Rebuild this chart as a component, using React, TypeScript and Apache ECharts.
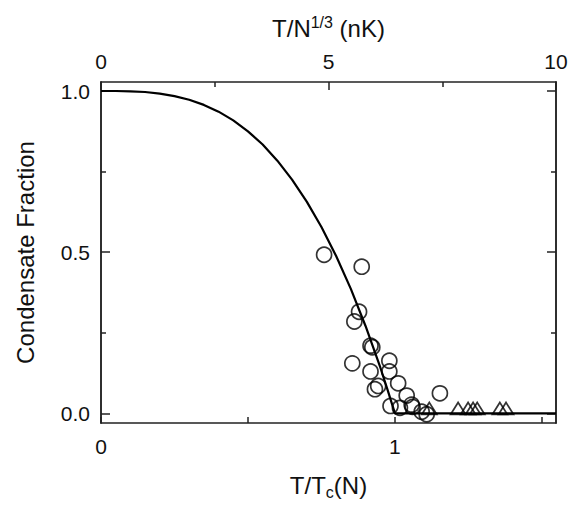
import React, { useEffect, useRef } from "react";
import * as echarts from "echarts";

const curveT = [0, 0.05, 0.1, 0.15, 0.2, 0.25, 0.3, 0.35, 0.4, 0.45, 0.5, 0.55, 0.6, 0.65, 0.7, 0.75, 0.8, 0.85, 0.9, 0.95, 0.975, 1.0, 1.548];
const curveF = [1, 1.0, 0.999, 0.997, 0.992, 0.984, 0.973, 0.957, 0.936, 0.909, 0.875, 0.834, 0.784, 0.725, 0.657, 0.578, 0.488, 0.386, 0.271, 0.143, 0.073, 0, 0];

const circleT = [0.759, 0.887, 0.878, 0.862, 0.917, 0.923, 0.855, 0.981, 0.917, 0.981, 1.011, 0.932, 0.943, 1.04, 0.985, 1.017, 1.057, 1.06, 1.091, 1.108, 1.153];
const circleF = [0.492, 0.455, 0.315, 0.285, 0.21, 0.205, 0.155, 0.163, 0.13, 0.13, 0.093, 0.075, 0.085, 0.055, 0.023, 0.017, 0.027, 0.02, 0.005, -0.003, 0.062];

const triT = [1.117, 1.215, 1.249, 1.266, 1.28, 1.357, 1.378];
const triF = [0.015, 0.015, 0.015, 0.015, 0.015, 0.015, 0.015];

const yMajor = [0, 0.5, 1];
const yMinor = [0.25, 0.75];
const bottomLabels = [0, 1];

const FONT = "Liberation Sans, Arial, Helvetica, sans-serif";
const AX = "#222";

export default function App() {
  const ref = useRef<HTMLDivElement>(null);
  useEffect(() => {
    if (!ref.current) return;
    const chart = echarts.init(ref.current, undefined, { renderer: "svg" });
    const labelStyle = { color: "#111", fontSize: 21, fontFamily: FONT };
    const yBase = (pos: string, ticks: number[], len: number, labels: boolean) => ({
      type: "value",
      position: pos,
      min: -0.03,
      max: 1.028,
      splitLine: { show: false },
      axisLine: { show: true, onZero: false, lineStyle: { color: AX, width: 1.5 } },
      axisTick: { show: true, inside: true, length: len, customValues: ticks, lineStyle: { color: AX, width: 1.5 } },
      axisLabel: labels
        ? { show: true, customValues: ticks, formatter: (v: number) => v.toFixed(1), margin: 11, ...labelStyle }
        : { show: false },
    });
    chart.setOption({
      animation: false,
      backgroundColor: "#fff",
      grid: { left: 101, right: 15, top: 82, bottom: 70, containLabel: false },
      xAxis: [
        {
          type: "value",
          position: "bottom",
          min: 0,
          max: 1.548,
          interval: 0.5,
          name: "T/T{sub|c}(N)",
          nameLocation: "middle",
          nameGap: 47,
          nameTextStyle: {
            color: "#111",
            fontSize: 24,
            fontFamily: FONT,
            lineHeight: 30,
            rich: { sub: { fontSize: 16, fontFamily: FONT, color: "#111", verticalAlign: "bottom", lineHeight: 14 } },
          },
          splitLine: { show: false },
          axisLine: { show: true, onZero: false, lineStyle: { color: AX, width: 1.5 } },
          axisTick: { show: true, inside: true, length: 6, lineStyle: { color: AX, width: 1.5 } },
          axisLabel: {
            show: true,
            margin: 13,
            showMaxLabel: false,
            formatter: (v: number) => (bottomLabels.indexOf(v) >= 0 ? String(v) : ""),
            ...labelStyle,
          },
        },
        {
          type: "value",
          position: "top",
          min: 0,
          max: 10,
          interval: 5,
          name: "T/N{sup|1/3} (nK)",
          nameLocation: "middle",
          nameGap: 40,
          nameTextStyle: {
            color: "#111",
            fontSize: 24,
            fontFamily: FONT,
            rich: { sup: { fontSize: 16, fontFamily: FONT, color: "#111", verticalAlign: "top", padding: [0, 0, 12, 0] } },
          },
          splitLine: { show: false },
          axisLine: { show: true, onZero: false, lineStyle: { color: AX, width: 1.5 } },
          axisTick: { show: true, inside: true, length: 8, lineStyle: { color: AX, width: 1.5 } },
          minorTick: { show: true, splitNumber: 2, length: 5, lineStyle: { color: AX, width: 1.5 } },
          axisLabel: { show: true, margin: 10, ...labelStyle },
        },
      ],
      yAxis: [
        {
          ...yBase("left", yMajor, 9, true),
          name: "Condensate Fraction",
          nameLocation: "middle",
          nameRotate: 90,
          nameGap: 64,
          nameTextStyle: { color: "#111", fontSize: 24, fontFamily: FONT },
        },
        yBase("left", yMinor, 5, false),
        yBase("right", yMajor, 9, false),
        yBase("right", yMinor, 5, false),
      ],
      series: [
        {
          type: "line",
          xAxisIndex: 0,
          yAxisIndex: 0,
          data: curveT.map((t, i) => [t, curveF[i]]),
          showSymbol: false,
          smooth: false,
          clip: true,
          lineStyle: { color: "#000", width: 2.2 },
          z: 2,
        },
        {
          type: "scatter",
          xAxisIndex: 0,
          yAxisIndex: 0,
          data: circleT.map((t, i) => [t, circleF[i]]),
          symbol: "circle",
          symbolSize: 15,
          itemStyle: { color: "rgba(0,0,0,0)", borderColor: "#000", borderWidth: 1.7 },
          z: 3,
        },
        {
          type: "scatter",
          xAxisIndex: 0,
          yAxisIndex: 0,
          data: triT.map((t, i) => [t, triF[i]]),
          symbol: "triangle",
          symbolSize: [15, 12],
          itemStyle: { color: "rgba(0,0,0,0)", borderColor: "#000", borderWidth: 1.7 },
          z: 3,
        },
      ],
    });
    return () => chart.dispose();
  }, []);
  return <div ref={ref} style={{ position: "absolute", left: 0, top: 0, width: 571, height: 505 }} />;
}
